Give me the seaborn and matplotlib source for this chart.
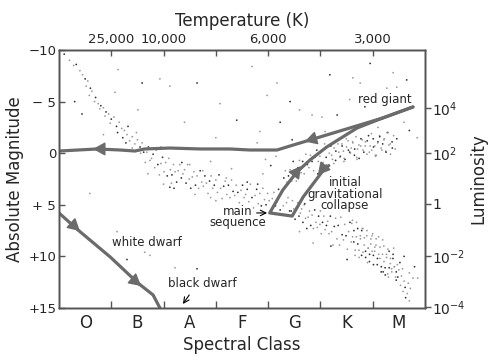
import numpy as np
import pandas as pd
import matplotlib
matplotlib.use('Agg')
import matplotlib.pyplot as plt
import seaborn as sns

# ---------------- data ----------------
classes = ['O', 'B', 'A', 'F', 'G', 'K', 'M']
temp_labels = ['25,000', '10,000', '', '6,000', '', '3,000']
mag_ticks = [-10, -5, 0, 5, 10, 15]
mag_labels = ['\u221210', '\u2212 5', '0', '+ 5', '+10', '+15']
lum_pos = [-4.4, 0.0, 4.9, 10.0, 14.9]
lum_labels = [r'$10^{4}$', r'$10^{2}$', '1', r'$10^{-2}$', r'$10^{-4}$']

# evolutionary tracks (spectral-class units, absolute magnitude)
giant_x = [6.77, 6.19, 5.56, 4.80, 4.42, 4.17, 3.65, 3.27, 2.70, 2.12, 1.64, 1.45, 1.17, 0.73, 0.0]
giant_m = [-4.48, -3.41, -2.44, -1.28, -0.70, -0.31, -0.31, -0.41, -0.41, -0.50, -0.41, -0.21, -0.31, -0.41, -0.21]
collapse_x = [5.16, 5.03, 4.67, 4.46, 4.03, 4.28, 4.55, 4.80, 5.12, 5.70, 6.19, 6.77]
collapse_m = [1.20, 1.82, 4.24, 6.09, 5.79, 3.57, 1.82, 0.66, -0.60, -2.44, -3.41, -4.48]
dwarf_x = [0.0, 0.34, 0.98, 1.51, 1.80, 1.93]
dwarf_m = [5.79, 7.34, 10.06, 12.58, 13.74, 15.0]

# stars (x = spectral position, m = absolute magnitude)
upper_ms = [
    (0.10,-9.6),(0.20,-9.0),(0.28,-8.5),(0.33,-8.6),(0.40,-8.0),(0.45,-7.6),(0.50,-7.2),(0.55,-7.0),
    (0.52,-6.5),(0.60,-6.3),(0.63,-6.0),(0.58,-5.6),(0.70,-5.4),(0.68,-5.0),(0.75,-4.8),(0.80,-4.6),
    (0.78,-4.3),(0.85,-4.4),(0.90,-4.0),(0.88,-3.6),(0.95,-3.8),(1.00,-3.3),(1.05,-3.5),(0.98,-2.9),
    (1.10,-2.6),(1.15,-3.0),(1.20,-2.4),(1.12,-2.0),(1.25,-2.2),(1.30,-1.8),(1.22,-1.5),(1.35,-1.2),
    (1.40,-1.6),(1.28,-1.0),(1.45,-0.9),(1.50,-1.3),(1.55,-0.6),(1.40,-0.5),(1.48,-2.0),(1.32,-2.6),
]
middle_ms = [
    (1.56,0.0),(1.59,-1.0),(1.62,-0.1),(1.65,0.9),(1.68,-0.1),(1.71,-0.6),(1.74,0.7),(1.77,0.5),
    (1.80,0.1),(1.83,1.4),(1.86,-0.3),(1.89,1.1),(1.92,2.1),(1.95,1.0),(1.98,0.4),(2.01,1.8),
    (2.04,0.9),(2.07,2.2),(2.10,0.5),(2.13,1.6),(2.16,2.1),(2.19,1.1),(2.22,1.8),(2.25,2.8),
    (2.28,1.7),(2.31,1.1),(2.34,2.4),(2.37,2.0),(2.40,1.6),(2.43,2.9),(2.46,1.1),(2.49,2.5),
    (2.52,3.4),(2.55,2.3),(2.58,1.8),(2.61,3.1),(2.64,2.2),(2.67,3.4),(2.70,1.7),(2.73,2.8),
    (2.76,3.2),(2.79,2.2),(2.82,2.9),(2.85,3.9),(2.88,2.7),(2.91,2.2),(2.94,3.4),(2.97,3.1),
    (3.00,2.6),(3.03,3.8),(3.06,2.1),(3.09,3.4),(3.12,4.4),(3.15,3.2),(3.18,2.7),(3.21,4.0),
    (3.24,3.1),(3.27,4.3),(3.30,2.6),(3.33,3.7),(3.36,4.1),(3.39,3.1),(3.42,3.8),(3.45,4.8),
    (3.48,3.6),(3.51,3.1),(3.54,4.3),(3.57,4.0),(3.60,3.5),(3.63,4.7),(3.66,3.0),(3.69,4.3),
    (3.72,5.3),(3.75,4.1),(3.78,3.5),(3.81,4.9),(3.84,3.9),(3.87,5.1),(3.90,3.4),(3.93,4.5),
    (3.96,5.0),(3.99,3.9),(4.02,4.6),(4.05,5.6),(4.08,4.4),(4.11,3.8),(4.14,5.1),(4.17,4.7),
    (4.20,4.3),(4.23,5.5),(4.26,3.7),(4.29,5.1),(4.32,6.0),(4.35,4.8),(4.38,4.3),(4.41,5.6),
    (1.70,2.0),(2.00,3.0),(2.20,3.4),(2.60,4.0),(3.00,4.6),(2.35,0.9),(2.75,1.7),(3.20,2.4),
    (3.60,2.8),(1.95,-0.6),(2.50,1.1),(3.80,3.0),(2.15,2.9),(2.90,4.3),
]
lower_ms = [
    (4.44,5.6),(4.465,4.6),(4.49,5.4),(4.515,6.4),(4.54,5.3),(4.565,4.8),(4.59,6.1),(4.615,5.8),
    (4.64,5.4),(4.665,6.7),(4.69,5.0),(4.715,6.3),(4.74,7.3),(4.765,6.2),(4.79,5.6),(4.815,7.0),
    (4.84,6.0),(4.865,7.3),(4.89,5.5),(4.915,6.7),(4.94,7.2),(4.965,6.1),(4.99,6.9),(5.015,7.8),
    (5.04,6.7),(5.065,6.1),(5.09,7.4),(5.115,7.0),(5.14,6.6),(5.165,7.8),(5.19,6.1),(5.215,7.6),
    (5.24,8.9),(5.265,7.1),(5.29,6.3),(5.315,8.3),(5.34,7.0),(5.365,8.9),(5.39,6.2),(5.415,7.9),
    (5.44,8.4),(5.465,6.9),(5.49,8.0),(5.515,9.3),(5.54,7.6),(5.565,6.7),(5.59,8.6),(5.615,8.1),
    (5.64,7.5),(5.665,9.4),(5.69,6.7),(5.715,8.8),(5.74,10.1),(5.765,8.3),(5.79,7.5),(5.815,9.6),
    (5.84,8.2),(5.865,10.1),(5.89,7.5),(5.915,9.2),(5.94,9.8),(5.965,8.3),(5.99,9.5),(6.015,10.8),
    (6.04,9.1),(6.065,8.3),(6.09,10.2),(6.115,9.8),(6.14,9.1),(6.165,11.0),(6.19,8.4),(6.215,10.5),
    (6.24,11.8),(6.265,10.1),(6.29,9.3),(6.315,11.1),(6.34,10.2),(6.365,11.5),(6.39,9.8),(6.415,11.0),
    (5.6125,6.5),(5.6375,8.6),(5.6625,9.9),(5.6875,8.1),(5.7125,7.3),(5.7375,9.4),(5.7625,8.0),
    (5.7875,9.9),(5.8125,7.3),(5.8375,8.9),(5.8625,9.5),(5.8875,8.0),(5.9125,9.2),(5.9375,10.5),
    (5.9625,8.8),(5.9875,8.0),(6.0125,9.9),(6.0375,9.5),(6.0625,8.9),(6.0875,10.8),(6.1125,8.1),
    (6.1375,10.2),(6.1625,11.5),(6.1875,9.8),(6.2125,9.0),(6.2375,11.1),(6.2625,9.8),(6.2875,11.7),
    (6.3125,9.5),(6.3375,10.7),(6.3625,11.2),(6.3875,10.2),(6.4125,11.0),(6.4375,12.0),
    (6.45,11.5),(6.47,10.8),(6.50,11.3),(6.52,10.6),(6.55,11.9),(6.57,11.2),(6.48,12.0),(6.60,12.4),
    (6.53,12.8),(6.62,13.0),(6.58,13.4),(6.66,13.6),(6.63,14.0),(6.70,14.3),(6.68,12.6),(6.45,12.3),
    (6.72,13.1),(4.86,8.7),(5.51,10.3),(6.77,12.1),(6.86,12.1),(6.80,11.0),(6.30,12.0),(5.90,10.6),
    (5.20,9.0),(4.60,7.6),(6.00,7.8),(6.60,10.0),(5.60,6.8),(5.00,5.6),(4.70,4.9),(6.40,9.2),
    (5.80,7.3),(6.20,11.5),(6.70,11.6),
]
giants = [
    (4.27,3.7),(4.30,2.4),(4.33,1.7),(4.36,2.8),(4.39,2.2),(4.42,1.6),(4.45,2.7),(4.48,0.8),
    (4.51,2.0),(4.54,2.7),(4.57,1.4),(4.60,0.7),(4.63,1.9),(4.66,0.8),(4.69,2.0),(4.72,0.1),
    (4.75,1.1),(4.78,1.4),(4.81,0.2),(4.84,0.8),(4.87,1.7),(4.90,0.4),(4.93,-0.3),(4.96,0.8),
    (4.99,0.3),(5.02,-0.2),(5.05,0.9),(5.08,-0.9),(5.11,0.4),(5.14,1.2),(5.17,0.0),(5.20,-0.7),
    (5.23,0.6),(5.26,-0.5),(5.29,0.7),(5.32,-1.2),(5.35,-0.1),(5.38,0.3),(5.41,-0.9),(5.44,-0.2),
    (5.47,0.6),(5.50,-0.6),(5.53,-1.2),(5.56,-0.1),(5.59,-0.5),(5.62,-1.0),(5.65,0.2),(5.68,-1.6),
    (5.71,-0.4),(5.74,0.5),(5.77,-0.7),(5.80,-1.3),(5.83,-0.1),(5.86,-1.1),(5.89,0.1),(5.92,-1.7),
    (5.95,-0.7),(5.98,-0.3),(6.01,-1.4),(6.04,-0.7),(6.07,0.2),(6.10,-1.1),(6.13,-1.7),(6.16,-0.5),
    (6.19,-0.9),(6.22,-1.4),(6.25,-0.2),(6.28,-2.0),(6.31,-0.8),(6.34,0.1),(6.37,-1.1),(6.40,-1.7),
    (6.43,-0.4),(6.46,-1.4),
    (5.215,0.2),(5.255,1.0),(5.295,-0.2),(5.335,-0.9),(5.375,0.4),(5.415,-0.7),(5.455,0.5),
    (5.495,-1.4),(5.535,-0.3),(5.575,0.0),(5.615,-1.1),(5.655,-0.4),(5.695,0.4),(5.735,-0.8),
    (5.775,-1.4),(5.815,-0.3),(5.855,-0.7),(5.895,-1.2),(5.935,-0.1),(5.975,-1.9),(6.015,-0.6),
    (6.055,0.3),(6.095,-1.0),(6.135,-1.6),(6.175,-0.3),(6.215,-1.3),(6.255,-0.1),(6.295,-2.0),
    (6.335,-0.9),(6.375,-0.5),
    (5.45,0.8),(5.15,1.2),(4.95,2.0),(5.70,0.6),(6.05,0.2),(4.05,1.2),(4.15,0.3),(3.90,2.0),
    (4.20,3.5),(3.95,0.6),
]
field = [
    (1.13,-8.1),(1.59,-6.8),(1.93,-7.2),(2.12,-6.5),(2.64,-6.8),(3.08,-4.8),(1.51,-4.2),(0.44,-3.8),
    (1.07,-5.9),(3.69,-8.4),(5.18,-7.6),(5.62,-7.3),(5.76,-6.8),(5.95,-8.7),(6.39,-7.8),(6.46,-6.4),
    (6.65,-7.1),(4.17,-6.8),(3.98,-5.6),(4.42,-5.0),(4.84,-3.7),(5.03,-3.5),(4.23,-3.0),(3.84,-2.1),
    (5.09,-2.1),(5.32,-3.7),(6.27,-6.3),(5.56,-5.2),(4.46,-1.3),(3.79,-1.0),(1.11,7.6),(1.30,10.3),
    (1.74,9.9),(2.22,11.1),(2.64,11.2),(0.59,3.9),(1.64,9.6),(2.12,3.3),(3.00,-1.5),(2.40,-3.0),
    (3.40,-3.2),(6.60,-3.0),(6.85,-1.5),(6.70,-2.2),(2.90,0.8),(3.30,1.5),(0.30,-5.0),(0.85,-1.8),
    (4.60,-4.2),(5.85,-4.5),(6.10,-2.5),
]
stars = upper_ms + middle_ms + lower_ms + giants + field
star_x = [s[0] for s in stars]
star_m = [s[1] for s in stars]

# ---------------- style ----------------
sns.set_style('white')
plt.rcParams['font.family'] = ['DejaVu Sans']
track_col = '#6b6b6b'
spine_col = '#555555'

fig = plt.figure(figsize=(4.91, 3.61), dpi=100)
ax = fig.add_axes([59/491, 53/361, 366/491, 258/361])

df = pd.DataFrame({'x': star_x, 'm': star_m,
                   'tone': ['dark' if i % 3 == 0 else 'light' for i in range(len(star_x))]})
sns.scatterplot(data=df, x='x', y='m', hue='tone',
                palette={'dark': '#303030', 'light': '#9a9a9a'},
                s=1.6, linewidth=0, legend=False, ax=ax, zorder=1)

for tx, tm in [(giant_x, giant_m), (collapse_x, collapse_m), (dwarf_x, dwarf_m)]:
    sns.lineplot(x=tx, y=tm, sort=False, estimator=None, color=track_col,
                 lw=2.3, ax=ax, zorder=3)

arrows = [((0.65, -0.41), (0.86, -0.41)),
          ((4.70, -1.13), (4.95, -1.52)),
          ((4.63, 1.24), (4.47, 2.31)),
          ((4.95, 2.11), (5.11, 1.14)),
          ((0.40, 7.54), (0.25, 6.86)),
          ((1.57, 12.87), (1.41, 12.19))]
for tip, tail in arrows:
    ax.annotate('', xy=tip, xytext=tail,
                arrowprops=dict(arrowstyle='-|>,head_length=0.9,head_width=0.5',
                                color=track_col, lw=1.2, mutation_scale=8,
                                shrinkA=0, shrinkB=0), zorder=4)

ax.set_xlim(0, 7)
ax.set_ylim(15, -10)

# bottom axis
ax.set_xticks([i + 0.5 for i in range(7)])
ax.set_xticklabels(classes, fontsize=12)
ax.set_xticks(range(1, 7), minor=True)
ax.tick_params(axis='x', which='major', length=0, pad=4)
ax.tick_params(axis='x', which='minor', direction='in', length=5, color=spine_col, width=1)
ax.set_xlabel('Spectral Class', fontsize=12, labelpad=3)

# left axis
ax.set_yticks(mag_ticks)
ax.set_yticklabels(mag_labels, fontsize=9.5)
ax.tick_params(axis='y', direction='in', length=4, pad=2, color=spine_col, width=1, left=True)
ax.set_ylabel('Absolute Magnitude', fontsize=12, labelpad=3)

for sp in ax.spines.values():
    sp.set_color(spine_col)
    sp.set_linewidth(1)
    sp.set_visible(True)

# top axis
axt = ax.twiny()
axt.set_xlim(0, 7)
axt.set_xticks(range(1, 7))
axt.set_xticklabels(temp_labels, fontsize=9.5)
axt.tick_params(axis='x', direction='in', length=4, pad=3, color=spine_col, width=1, top=True)
axt.set_xlabel('Temperature (K)', fontsize=12, labelpad=5)
axt.grid(False)

# right axis
axr = ax.twinx()
axr.set_ylim(15, -10)
axr.set_yticks(lum_pos)
axr.set_yticklabels(lum_labels, fontsize=10)
axr.tick_params(axis='y', direction='out', length=4, pad=1, color=spine_col, width=1, right=True)
axr.set_ylabel('Luminosity', fontsize=12, labelpad=3)
axr.grid(False)
for a in (axt, axr):
    for sp in a.spines.values():
        sp.set_color(spine_col)
        sp.set_linewidth(1)

# annotations
fs = 8.5
ax.text(6.75, -5.16, 'red giant', fontsize=fs, ha='right', va='center', zorder=5)
ax.text(5.47, 4.0, 'initial\ngravitational\ncollapse', fontsize=fs, ha='center', va='center',
        multialignment='center', linespacing=0.85, zorder=5)
ax.text(3.42, 6.2, 'main\nsequence', fontsize=fs, ha='center', va='center',
        multialignment='center', linespacing=0.8, zorder=5)
ax.annotate('', xy=(3.98, 5.79), xytext=(3.78, 5.79),
            arrowprops=dict(arrowstyle='->', color='black', lw=0.8, shrinkA=0, shrinkB=0))
ax.text(1.68, 8.70, 'white dwarf', fontsize=fs, ha='center', va='center', zorder=5)
ax.text(2.75, 12.67, 'black dwarf', fontsize=fs, ha='center', va='center', zorder=5)
ax.annotate('', xy=(2.37, 14.61), xytext=(2.49, 13.74),
            arrowprops=dict(arrowstyle='->', color='black', lw=0.8, shrinkA=0, shrinkB=0))

fig.savefig('out.png', dpi=100)
